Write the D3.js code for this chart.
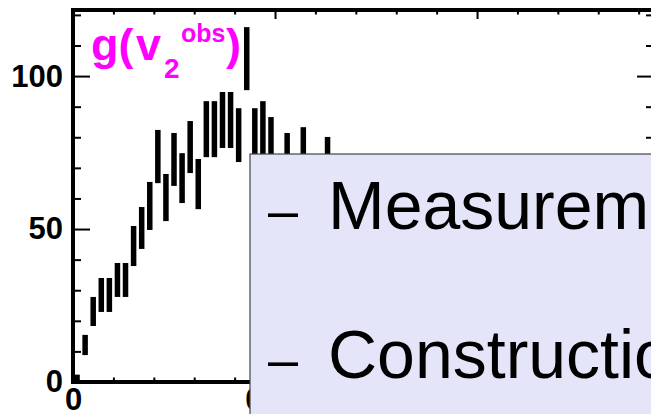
<!DOCTYPE html>
<html>
<head>
<meta charset="utf-8">
<script src="https://cdn.jsdelivr.net/npm/d3@7"></script>
<style>
  body { margin: 0; background: #fff; overflow: hidden; }
  svg { display: block; }
</style>
</head>
<body>
<div id="plot"></div>
<script>
// histogram bins (width 0.002), each drawn as error bar lo..hi
var binIndex = [0, 1, 2, 3, 4, 5, 6, 7, 8, 9, 10, 11, 12, 13, 14, 15, 16, 17, 18, 19, 20, 21, 22, 23, 24, 26, 28, 31];
var binLow  = [0.6, 8.8, 18.3, 22.9, 22.9, 27.8, 27.8, 37.9, 43.5, 49.7, 65.0, 52.6, 64.1, 58.5, 68.3, 56.5, 73.5, 73.5, 76.5, 76.5, 71.9, 95.4, 72, 74, 69, 64, 66, 63];
var binHigh = [2.4, 15.4, 27.8, 34.0, 34.0, 38.9, 38.9, 51.0, 57.2, 65.4, 82.4, 68.0, 81.4, 74.8, 85.3, 72.9, 91.8, 91.8, 94.8, 94.8, 89.5, 116.0, 89.5, 91.8, 86.6, 81.4, 83.3, 80.1];
var binWidth = 0.002;

var xMajor = [0, 0.05, 0.1];
var xMinor = [0.01, 0.02, 0.03, 0.04, 0.06, 0.07, 0.08, 0.09, 0.11, 0.12, 0.13, 0.14];
var yMajor = [0, 50, 100];
var yMinor = [10, 20, 30, 40, 60, 70, 80, 90, 110, 120];

var bullets = ["Measurement", "Construction"];

var width = 651;
var height = 414;
var plotLeft = 73, plotRight = 654, plotTop = 10, plotBottom = 382;

var xScale = d3.scaleLinear().domain([0, 0.1438]).range([plotLeft, plotRight]);
var yScale = d3.scaleLinear().domain([0, 121.6]).range([plotBottom, plotTop]);

var svg = d3.select("#plot").append("svg")
    .attr("width", width)
    .attr("height", height)
    .style("font-family", "'Liberation Sans', Arial, Helvetica, sans-serif");

var bins = binIndex.map(function(k, i){
    return {k: k, lo: binLow[i], hi: binHigh[i]};
});

// bars
svg.selectAll(".bar")
    .data(bins).enter().append("rect")
    .attr("class", "bar")
    .attr("x", function(d){ return xScale((d.k + 0.5) * binWidth) - 2.75; })
    .attr("y", function(d){ return yScale(d.hi); })
    .attr("width", 5.5)
    .attr("height", function(d){ return yScale(d.lo) - yScale(d.hi); })
    .style("fill", "#000");

// axes
function styleAxis(g){
    g.select(".domain").remove();
    g.selectAll(".tick line").attr("stroke", "#000").attr("stroke-width", 2);
    g.selectAll(".tick text")
        .attr("fill", "#000")
        .style("font-size", "31px")
        .style("font-weight", "bold");
}

svg.append("g")
    .attr("transform", "translate(" + plotLeft + ",0)")
    .call(d3.axisLeft(yScale).tickValues(yMajor).tickSizeInner(-17).tickSizeOuter(0).tickPadding(10))
    .call(styleAxis);
svg.append("g")
    .attr("transform", "translate(" + plotLeft + ",0)")
    .call(d3.axisLeft(yScale).tickValues(yMinor).tickSizeInner(-8).tickSizeOuter(0).tickFormat(""))
    .call(styleAxis);
svg.append("g")
    .attr("transform", "translate(" + plotRight + ",0)")
    .call(d3.axisRight(yScale).tickValues(yMajor).tickSizeInner(-17).tickSizeOuter(0).tickFormat(""))
    .call(styleAxis);
svg.append("g")
    .attr("transform", "translate(" + plotRight + ",0)")
    .call(d3.axisRight(yScale).tickValues(yMinor).tickSizeInner(-8).tickSizeOuter(0).tickFormat(""))
    .call(styleAxis);

svg.append("g")
    .attr("transform", "translate(0," + plotBottom + ")")
    .call(d3.axisBottom(xScale).tickValues(xMajor).tickSizeInner(-9).tickSizeOuter(0).tickPadding(6)
        .tickFormat(function(d){ return d === 0 ? "0" : d3.format("~g")(d); }))
    .call(styleAxis);
svg.append("g")
    .attr("transform", "translate(0," + plotBottom + ")")
    .call(d3.axisBottom(xScale).tickValues(xMinor).tickSizeInner(-4.5).tickSizeOuter(0).tickFormat(""))
    .call(styleAxis);
svg.append("g")
    .attr("transform", "translate(0," + plotTop + ")")
    .call(d3.axisTop(xScale).tickValues(xMajor).tickSizeInner(-9).tickSizeOuter(0).tickFormat(""))
    .call(styleAxis);
svg.append("g")
    .attr("transform", "translate(0," + plotTop + ")")
    .call(d3.axisTop(xScale).tickValues(xMinor).tickSizeInner(-4.5).tickSizeOuter(0).tickFormat(""))
    .call(styleAxis);

// frame
svg.append("rect")
    .attr("x", plotLeft)
    .attr("y", plotTop)
    .attr("width", plotRight - plotLeft)
    .attr("height", plotBottom - plotTop)
    .attr("fill", "none")
    .attr("stroke", "#000")
    .attr("stroke-width", 4);

// title g(v2^obs)
var title = svg.append("text")
    .attr("fill", "#ff00ff")
    .style("font-weight", "bold");
title.append("tspan").attr("x", 91).attr("y", 60).style("font-size", "45px").text("g(");
title.append("tspan").attr("x", 136).attr("y", 60).style("font-size", "45px").text("v");
title.append("tspan").attr("x", 164).attr("y", 78).style("font-size", "28px").text("2");
title.append("tspan").attr("x", 181).attr("y", 42).style("font-size", "25px").text("obs");
title.append("tspan").attr("x", 226).attr("y", 60).style("font-size", "45px").text(")");

// overlay box with bullet text
svg.append("rect")
    .attr("x", 250)
    .attr("y", 154)
    .attr("width", 430)
    .attr("height", 300)
    .attr("fill", "#e5e5fa")
    .attr("stroke", "#444")
    .attr("stroke-width", 1.2);

var lineY = [229, 378];
bullets.forEach(function(t, i){
    svg.append("text")
        .attr("x", 268)
        .attr("y", lineY[i])
        .style("font-size", "54px")
        .attr("fill", "#000")
        .text("\u2013");
    svg.append("text")
        .attr("x", 328)
        .attr("y", lineY[i])
        .style("font-size", "68px")
        .attr("fill", "#000")
        .text(t);
});
</script>
</body>
</html>
